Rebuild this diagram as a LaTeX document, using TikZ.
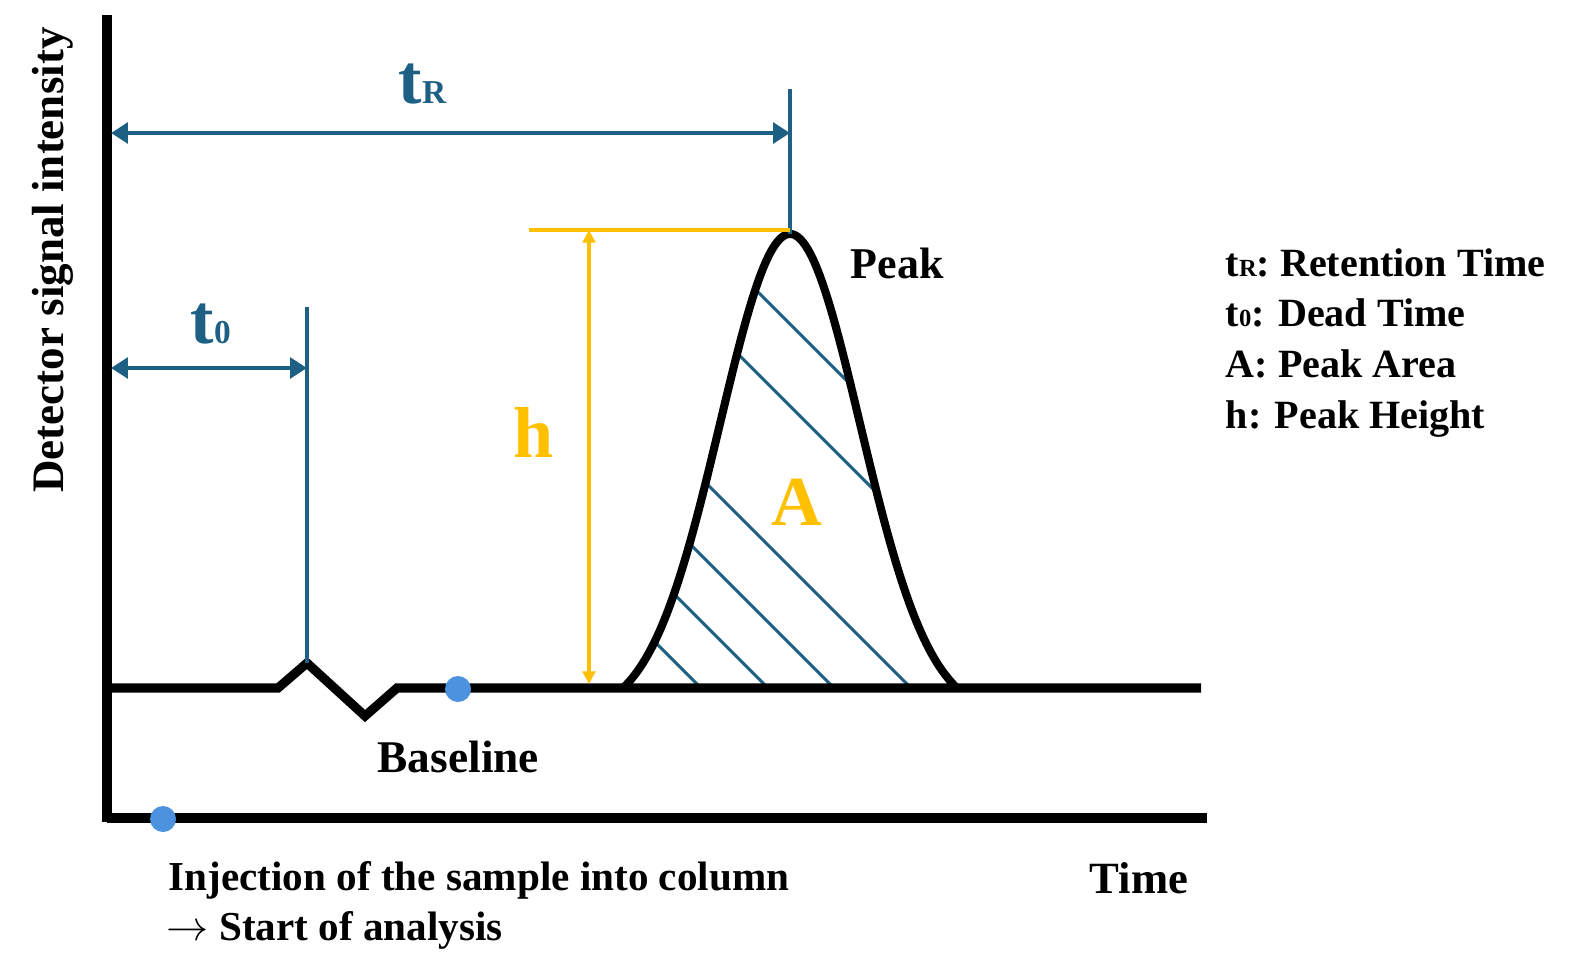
\documentclass[tikz,border=0pt]{standalone}
\usepackage{fontspec}
\setmainfont{Liberation Serif}
\usetikzlibrary{arrows.meta}
\definecolor{tealA}{RGB}{30,96,132}
\definecolor{goldA}{RGB}{255,192,0}
\definecolor{dotA}{RGB}{76,146,222}
\newcommand\setfs[1]{\fontsize{#1}{#1}\selectfont}
\begin{document}
\begin{tikzpicture}[x=0.01cm,y=-0.01cm,
  axisline/.style={line width=2.85pt,black},
  baseln/.style={line width=2.6pt,black},
  peakln/.style={line width=2.3pt,black},
  dimarrow/.style={line width=1.4pt,tealA,{Triangle[length=4.8pt,width=5.8pt]}-{Triangle[length=4.8pt,width=5.8pt]}},
  tealln/.style={line width=1.0pt,tealA},
  goldln/.style={line width=1.0pt,goldA},
  goldarrow/.style={line width=1.0pt,goldA,{Triangle[length=3.6pt,width=3.6pt]}-{Triangle[length=3.6pt,width=3.6pt]}},
  hatchln/.style={line width=0.85pt,tealA},
  dotfill/.style={fill=dotA},
  lbl/.style={inner sep=0pt,anchor=base west,font=\bfseries},
]
\useasboundingbox (0,0) rectangle (1583,975);

% hatch lines inside the peak
\begin{scope}
\clip plot[domain=-167:167,samples=120] ({790+\x},{688-482*(exp(-0.5*(\x/70)^2)-0.0581)}) -- cycle;
\foreach \c in {466,384,223,146,80,13}{
  \draw[hatchln] ({\c+150},150) -- ({\c+750},750);
}
\end{scope}

% axes
\draw[axisline] (107,15) -- (107,822);
\draw[axisline] (107,818) -- (1207,818);

% peak curve
\draw[peakln] plot[domain=-167:167,samples=120] ({790+\x},{688-482*(exp(-0.5*(\x/70)^2)-0.0581)});

% baseline with disturbance
\coordinate (zigtop) at (307,663);
\draw[baseln] (112,688) -- (278,688) -- (zigtop) -- (365,716) -- (397,688) -- (1201,688);

% dots
\fill[dotfill] (458,689) circle[radius=13];
\fill[dotfill] (163,819) circle[radius=13];

% dimension lines
\coordinate (trL) at (111,133);
\coordinate (trR) at (790,133);
\coordinate (trTop) at (790,89);
\coordinate (pk) at (790,234);
\draw[tealln] (trTop) -- (pk);
\draw[dimarrow] (trL) -- (trR);

\coordinate (t0L) at (111,368);
\coordinate (t0R) at (307,368);
\coordinate (t0Top) at (307,307);
\draw[tealln] (t0Top) -- (zigtop);
\draw[dimarrow] (t0L) -- (t0R);

\coordinate (hL) at (529,230);
\coordinate (hR) at (790,230);
\coordinate (hTop) at (589,230);
\coordinate (hBot) at (589,684);
\draw[goldln] (hL) -- (hR);
\draw[goldarrow] (hTop) -- (hBot);

% labels
\node[lbl,text=tealA] (tR) at (398,103) {\setfs{20}t{\setfs{9.5}R}};
\node[lbl,text=tealA] (t0) at (190,343) {\setfs{20}t{\setfs{9.5}0}};
\node[lbl,text=goldA] (h) at (513,457) {\setfs{20.5}h};
\node[inner sep=0pt,anchor=base,font=\bfseries,text=goldA] (A) at (797,525) {\setfs{20}A};
\node[lbl] (peak) at (850,278) {\setfs{12.5}Peak};
\node[lbl] (bl) at (377,772) {\setfs{12.9}Baseline};
\node[lbl] (inj1) at (168,890) {\setfs{11.7}Injection of the sample into column};
\node[lbl] (inj2) at (166,940) {\setfs{11.7}$\rightarrow$ Start of analysis};
\node[lbl] (time) at (1089,893) {\setfs{12.7}Time};
\node[inner sep=0pt,anchor=base,font=\bfseries,rotate=90] (ylab) at (63,260) {\setfs{12.8}Detector signal intensity};

\node[lbl] (lg1) at (1225,276) {\setfs{11.4}t{\setfs{7}R}: Retention Time};
\node[lbl] (lg2) at (1225,326) {\setfs{11.4}t{\setfs{7}0}: Dead Time};
\node[lbl] (lg3) at (1225,377) {\setfs{11.4}A: Peak Area};
\node[lbl] (lg4) at (1225,428) {\setfs{11.4}h: Peak Height};
\end{tikzpicture}
\end{document}
